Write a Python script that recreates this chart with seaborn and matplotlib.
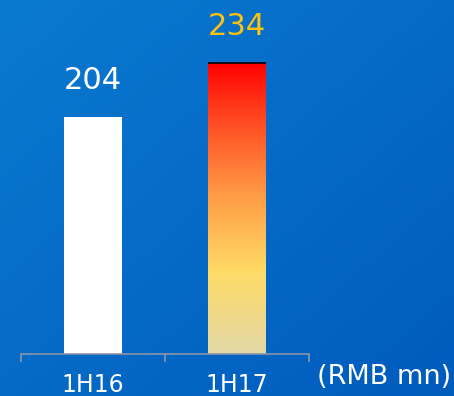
import numpy as np
import pandas as pd
import matplotlib
matplotlib.use("Agg")
import matplotlib.pyplot as plt
from matplotlib.colors import LinearSegmentedColormap, to_rgb
import seaborn as sns

# Half-year figures (RMB mn)
periods = ["1H16", "1H17"]
amounts = [204, 234]
label_colors = ["#FFFFFF", "#FFC20E"]
unit_label = "(RMB mn)"

sns.set_theme(style="white")
plt.rcParams["font.family"] = ["DejaVu Sans"]

W, H, DPI = 454, 396, 100
fig = plt.figure(figsize=(W / DPI, H / DPI), dpi=DPI)

# Diagonal blue backdrop
bg_ax = fig.add_axes([0, 0, 1, 1], zorder=0)
bg_ax.set_axis_off()
yy, xx = np.mgrid[0:1:200j, 0:1:200j]
t = (xx + yy) / 2.0
c0 = np.array(to_rgb("#0A7AD0"))
c1 = np.array(to_rgb("#005BBD"))
bg = c0[None, None, :] * (1 - t[..., None]) + c1[None, None, :] * t[..., None]
bg_ax.imshow(bg, extent=[0, 1, 0, 1], aspect="auto", origin="upper")

# Main chart area
left, right = 21 / W, 309 / W
bottom, top = (H - 354) / H, 1.0
ax = fig.add_axes([left, bottom, right - left, top - bottom], zorder=1)
ax.patch.set_alpha(0)

df = pd.DataFrame({"period": periods, "amount": amounts})
sns.barplot(data=df, x="period", y="amount", ax=ax, width=0.4,
            color="white", saturation=1, edgecolor="none", linewidth=0)

ymin = 72.3
ymax = ymin + 354 / 1.8

# Red-to-sand gradient fill for the latest period
grad_bar = ax.patches[1]
grad_bar.set_facecolor("none")
x0 = grad_bar.get_x()
w = grad_bar.get_width()
h = grad_bar.get_height()
cmap = LinearSegmentedColormap.from_list(
    "heat",
    [(0.0, "#E2D8A6"), (0.28, "#FFDB66"), (0.55, "#FF9A45"),
     (0.80, "#FF4A22"), (1.0, "#FF0000")])
grad = np.linspace(0, 1, 256).reshape(-1, 1)
im = ax.imshow(grad, cmap=cmap, origin="lower", aspect="auto",
               extent=[x0, x0 + w, ymin, h], zorder=2)
im.set_clip_path(grad_bar)
ax.plot([x0, x0 + w], [h, h], color="black", lw=1.2, zorder=3,
        solid_capstyle="butt")
ax.set_xlim(-0.5, 1.5)
ax.set_ylim(ymin, ymax)

# Value labels
for i, (v, c) in enumerate(zip(amounts, label_colors)):
    ax.text(i, v + 20.5, str(v), ha="center", va="center",
            fontsize=22, color=c)

# Axes styling: only the baseline with boundary ticks
for s in ["top", "right", "left"]:
    ax.spines[s].set_visible(False)
ax.spines["bottom"].set_color("#8A94A8")
ax.spines["bottom"].set_linewidth(1.2)
ax.set_yticks([])
ax.set_xlabel("")
ax.set_ylabel("")
ax.set_xticks([0, 1])
ax.set_xticklabels(periods)
ax.tick_params(axis="x", which="major", length=0, pad=14,
               labelsize=17, labelcolor="white")
ax.set_xticks([-0.5, 0.5, 1.5], minor=True)
ax.tick_params(axis="x", which="minor", length=6, width=1.2,
               color="#8A94A8", direction="out", bottom=True)

fig.text(317 / W, 1 - 377 / H, unit_label, ha="left", va="center",
         fontsize=19.5, color="white")

fig.savefig("out.png", dpi=DPI)
